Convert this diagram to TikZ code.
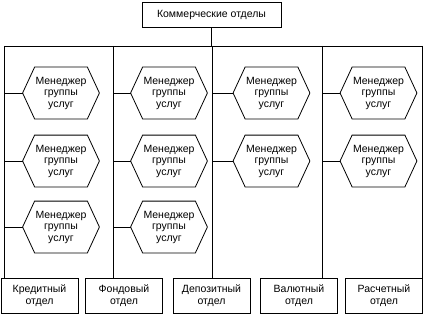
\documentclass[tikz,border=0pt]{standalone}
\usepackage{fontspec}
\setmainfont{Liberation Sans}
\begin{document}
\begin{tikzpicture}[x=1pt,y=-1pt,line width=0.8pt,
  txt/.style={font=\fontsize{10.5}{11.5}\selectfont, align=center, inner sep=0pt},
  hexbox/.style={txt, minimum width=76pt, minimum height=51pt},
  deptbox/.style={txt, draw, minimum width=77pt, minimum height=35pt},
  topbox/.style={txt, draw, minimum width=139pt, minimum height=25pt}]
\useasboundingbox (0,0) rectangle (425,318);
% top
\node[topbox] (top) at (211.5,14.5) {Коммерческие отделы};
% bus coordinates
\coordinate (b1) at (4,46);
\coordinate (b2) at (113,46);
\coordinate (b3) at (212,46);
\coordinate (b4) at (322,46);
\coordinate (b5) at (422,46);
% departments
\node[deptbox] (d1) at (39.5,295.5) {Кредитный\\отдел};
\node[deptbox] (d2) at (124,295.5) {Фондовый\\отдел};
\node[deptbox] (d3) at (211.5,295.5) {Депозитный\\отдел};
\node[deptbox] (d4) at (299,295.5) {Валютный\\отдел};
\node[deptbox] (d5) at (384,295.5) {Расчетный\\отдел};
% hexagons
\node[hexbox] (h11) at (61,93) {Менеджер\\группы\\услуг};
\node[hexbox] (h12) at (61,161) {Менеджер\\группы\\услуг};
\node[hexbox] (h13) at (61,227) {Менеджер\\группы\\услуг};
\node[hexbox] (h21) at (169,93) {Менеджер\\группы\\услуг};
\node[hexbox] (h22) at (169,161) {Менеджер\\группы\\услуг};
\node[hexbox] (h23) at (169,227) {Менеджер\\группы\\услуг};
\node[hexbox] (h31) at (271.5,93) {Менеджер\\группы\\услуг};
\node[hexbox] (h32) at (271.5,161) {Менеджер\\группы\\услуг};
\node[hexbox] (h41) at (378.5,93) {Менеджер\\группы\\услуг};
\node[hexbox] (h42) at (378.5,161) {Менеджер\\группы\\услуг};
\foreach \h in {h11,h12,h13,h21,h22,h23,h31,h32,h41,h42}
  \draw (\h.west) -- ([xshift=12pt]\h.north west) -- ([xshift=-12pt]\h.north east)
    -- (\h.east) -- ([xshift=-12pt]\h.south east) -- ([xshift=12pt]\h.south west) -- cycle;
% connectors
\draw (top.south) -- (top.south |- b3);
\draw (b1) -- (b5);
\foreach \i in {1,...,5} \draw (b\i) -- (b\i |- d\i.north);
\foreach \h/\b in {h11/b1,h12/b1,h13/b1,h21/b2,h22/b2,h23/b2,h31/b3,h32/b3,h41/b4,h42/b4}
  \draw (\h.west) -- (\h.west -| \b);
\end{tikzpicture}
\end{document}
